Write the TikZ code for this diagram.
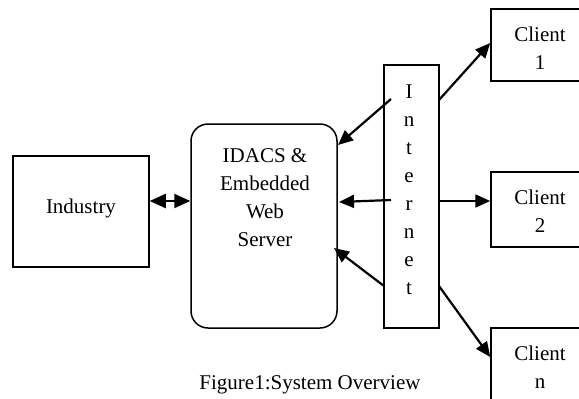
\documentclass[tikz,border=0pt]{standalone}
\usepackage{fontspec}
\setmainfont{Liberation Serif}
\usetikzlibrary{positioning,arrows.meta}

\tikzset{
  box/.style={draw,line width=1.5pt,minimum width=#1,inner sep=0pt,align=center,font=\fontsize{21}{28}\selectfont},
  txt/.style={inner sep=0pt,align=center,font=\fontsize{21}{28}\selectfont},
  link/.style={line width=2.2pt,-{Triangle[length=15pt,width=13pt]}}
}

\begin{document}
\begin{tikzpicture}[x=1pt,y=-1pt]
\useasboundingbox(0,0)rectangle(579,399);
\clip(0,0)rectangle(579,399);
% boxes
\node[box=136pt,minimum height=111pt](ind) at (81,211.5){};
\node[txt] at (81,208){Industry};
\node[box=146pt,minimum height=204pt,rounded corners=17pt](srv) at (264,226){};
\node[txt](srvtxt) at (265,198){IDACS \&\\Embedded\\Web\\Server};
\node[box=55pt,minimum height=263pt](inet) at (411.5,196.5){};
\node[txt](inettxt) at (409,190){I\\n\\t\\e\\r\\n\\e\\t};
\node[box=98pt,minimum height=72pt](c1) at (540,45){};
\node[txt] at (540,48){Client\\1};
\node[box=98pt,minimum height=75pt](c2) at (540,209.5){};
\node[txt] at (540,211.5){Client\\2};
\node[box=98pt,minimum height=75pt](cn) at (540,365.5){};
\node[txt] at (540,367){Client\\n};
% arrow ends
\coordinate(i1) at (391,99);
\coordinate(i2) at (391,200);
\coordinate(i3) at (384,286);
\coordinate(s1) at (338,145);
\coordinate(s2) at (339,202);
\coordinate(s3) at (334,248);
\coordinate(o1) at (439,100);
\coordinate(o2) at (439,201);
\coordinate(o3) at (439,286);
% arrows
\draw[line width=2.2pt,{Triangle[length=16pt,width=14pt]}-{Triangle[length=16pt,width=14pt]}](ind.east|-0,201)--(srv.west|-0,201);
\draw[link](i1)--(s1);
\draw[link](i2)--(s2);
\draw[link](i3)--(s3);
\draw[link](o1)--(c1.west|-0,43);
\draw[link](o2)--(c2.west|-0,201);
\draw[link](o3)--(cn.west|-0,357);
\node[txt](cap) at (310,385){Figure1:System Overview};
\end{tikzpicture}
\end{document}
